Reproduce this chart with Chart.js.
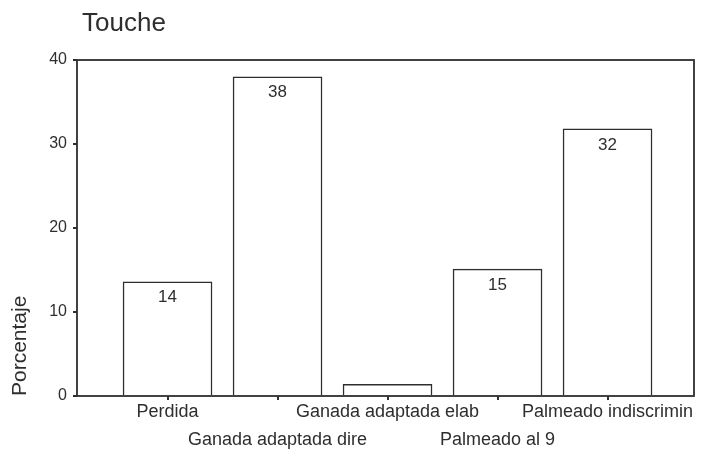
<!DOCTYPE html>
<html><head><meta charset="utf-8">
<script src="https://cdn.jsdelivr.net/npm/chart.js@4"></script>
<style>html,body{margin:0;padding:0;background:#fff}#w{width:702px;height:450px}</style>
</head><body><div id="w"><canvas id="c"></canvas></div>
<script>
const chartTitle = "Touche";
const yAxisTitle = "Porcentaje";
const categories = ["Perdida", "Ganada adaptada dire", "Ganada adaptada elab", "Palmeado al 9", "Palmeado indiscrimin"];
const values = [13.6, 38.0, 1.4, 15.1, 31.8];
const valueLabels = ["14", "38", "", "15", "32"];
const yTicks = [0, 10, 20, 30, 40];

const ink = "#2e2e2e";
const font = "Liberation Sans, Arial, sans-serif";

const framePlugin = {
  id: "frame",
  afterDatasetsDraw(chart) {
    const {ctx, chartArea: a} = chart;
    ctx.save();
    ctx.strokeStyle = ink; ctx.lineWidth = 1.8;
    ctx.strokeRect(a.left, a.top, a.right - a.left, a.bottom - a.top);
    const meta = chart.getDatasetMeta(0);
    ctx.fillStyle = ink; ctx.font = "17px " + font;
    ctx.textAlign = "center"; ctx.textBaseline = "middle";
    meta.data.forEach((bar, i) => {
      if (valueLabels[i]) ctx.fillText(valueLabels[i], bar.x, bar.y + 16);
    });
    ctx.font = "26px " + font; ctx.textAlign = "left"; ctx.textBaseline = "middle";
    ctx.fillText(chartTitle, a.left + 5, 24);
    ctx.restore();
  }
};

new Chart(document.getElementById("c"), {
  type: "bar",
  data: {
    datasets: [{
      data: values.map((v, i) => ({x: i, y: v})),
      backgroundColor: "#ffffff",
      borderColor: ink,
      borderWidth: 1.5,
      barThickness: 89
    }]
  },
  options: {
    responsive: true, maintainAspectRatio: false, animation: false,
    layout: {padding: {left: 0, right: 8, top: 60, bottom: 0}},
    plugins: {legend: {display: false}, tooltip: {enabled: false}, title: {display: false}},
    scales: {
      x: {
        type: "linear", min: -0.823, max: 4.786, offset: false,
        afterBuildTicks(s) { s.ticks = categories.map((_, i) => ({value: i})); },
        afterFit(s) { s.height = 54; },
        grid: {drawOnChartArea: false, offset: false, tickLength: 4, color: ink, lineWidth: 2},
        border: {display: false},
        ticks: {
          autoSkip: false, maxRotation: 0, color: ink, padding: -2,
          font: {family: font, size: 18, lineHeight: 1.55},
          callback(v) { const i = Math.round(v); return i % 2 ? ["", categories[i]] : categories[i]; }
        }
      },
      y: {
        min: 0, max: 40,
        afterBuildTicks(s) { s.ticks = yTicks.map(v => ({value: v})); },
        afterFit(s) { s.width = 77; },
        grid: {drawOnChartArea: false, tickLength: 4, color: ink, lineWidth: 2},
        border: {display: false},
        ticks: {color: ink, padding: 6, font: {family: font, size: 16}},
        title: {display: true, text: yAxisTitle, align: "start", color: ink,
                font: {family: font, size: 21}, padding: {top: 8, bottom: 0}}
      }
    }
  },
  plugins: [framePlugin]
});
</script></body></html>
